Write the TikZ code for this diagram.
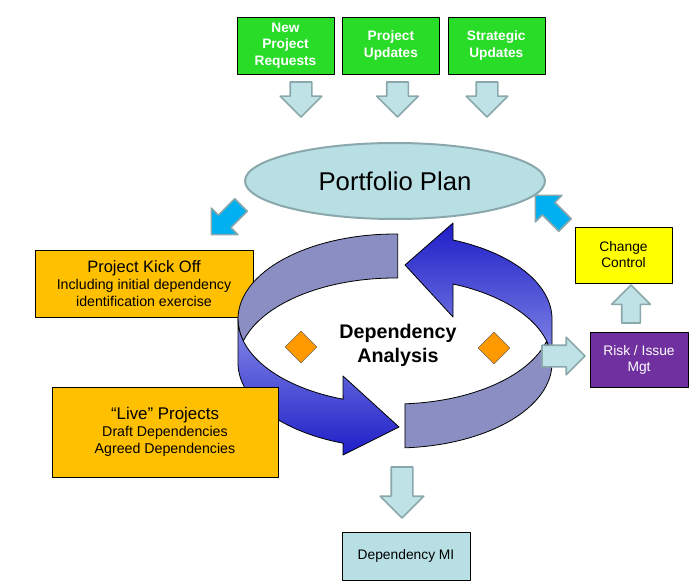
\documentclass[tikz,border=0pt]{standalone}
\usepackage{fontspec}
\setmainfont{Liberation Sans}
\usetikzlibrary{positioning,shapes.geometric,shapes.arrows}
\definecolor{boxgreen}{RGB}{40,220,40}
\definecolor{planfill}{RGB}{184,223,228}
\definecolor{planedge}{RGB}{138,168,172}
\definecolor{feedfill}{RGB}{190,226,229}
\definecolor{skyblue}{RGB}{0,176,240}
\definecolor{boxorange}{RGB}{255,192,0}
\definecolor{boxyellow}{RGB}{255,255,0}
\definecolor{boxpurple}{RGB}{112,48,160}
\definecolor{diamorange}{RGB}{255,153,0}
\definecolor{ringlav}{RGB}{138,142,194}
\definecolor{ringdeep}{RGB}{30,30,200}
\definecolor{ringmid}{RGB}{135,140,230}

\begin{document}
\begin{tikzpicture}[x=1pt,y=-1pt,line join=round,
  greenbox/.style={draw=black,fill=boxgreen,text=white,font=\fontsize{13.7}{16.6}\selectfont\bfseries,
    align=center,minimum width=97pt,minimum height=57pt,inner sep=0pt},
  plainbox/.style={draw=black,font=\fontsize{13.8}{16}\selectfont,align=center,
    minimum width=97pt,minimum height=56pt,inner sep=0pt},
  orangebox/.style={draw=black,fill=boxorange,font=\fontsize{14.2}{17}\selectfont,align=center,inner sep=0pt},
  plan/.style={ellipse,draw=planedge,line width=2pt,fill=planfill,minimum width=300pt,minimum height=76pt,
    font=\fontsize{25.7}{30}\selectfont},
  feedarrow/.style={single arrow,draw=planedge,fill=feedfill,line width=1.6pt,inner xsep=0pt,inner ysep=10pt,
    outer sep=0pt,single arrow head extend=10pt,minimum height=35pt,anchor=tail},
  bluearrow/.style={feedarrow,fill=skyblue,inner ysep=8pt,minimum height=42pt},
  diam/.style={diamond,draw=black!70,fill=diamorange,minimum width=32pt,minimum height=32pt,inner sep=0pt},
  ringlight/.style={draw=black,fill=ringlav,line width=0.8pt},
  ringdark/.style={draw=black,line width=0.8pt}]

\useasboundingbox(0,0)rectangle(696,585);

\node[greenbox](req)at(285.5,45.5){New\\Project\\Requests};
\node[greenbox](upd)[right=8pt of req]{Project\\Updates};
\node[greenbox](strat)[right=8pt of upd]{Strategic\\Updates};
\node[feedarrow,rotate=-90](f1)at(301,82){};
\node[feedarrow,rotate=-90](f2)at(397.5,82){};
\node[feedarrow,rotate=-90](f3)at(487,82){};

\node[plan](plan)at(395,181){Portfolio Plan};
\node[bluearrow,rotate=225](out1)at(241,205){};
\node[bluearrow,rotate=135](in1)at(565,225){};

\node[orangebox,minimum width=218pt,minimum height=67pt](kick)at(144,283.5)
  {{\fontsize{16.5}{19}\selectfont Project Kick Off}\\Including initial dependency\\identification exercise};

% ring: top edge centre (395,319), bottom edge centre (395,363), radii 157 x 85
\draw[ringlight]plot[variable=\t,domain=271:165,samples=40]({395+157*cos(\t)},{319+85*sin(\t)})
  --plot[variable=\t,domain=195:271,samples=40]({395+157*cos(\t)},{363+85*sin(\t)})--cycle;
\draw[ringlight]plot[variable=\t,domain=15:86.35,samples=40]({395+157*cos(\t)},{319+85*sin(\t)})
  --plot[variable=\t,domain=86.35:0,samples=40]({395+157*cos(\t)},{363+85*sin(\t)})--cycle;
\path[ringdark,top color=ringmid,bottom color=ringdeep]
  plot[variable=\t,domain=180:109.3,samples=40]({395+157*cos(\t)},{319+85*sin(\t)})
  --(343,376)--(399,427)--(343,455)
  --plot[variable=\t,domain=109.3:180,samples=40]({395+157*cos(\t)},{363+85*sin(\t)})--cycle;
\path[ringdark,top color=ringdeep,bottom color=ringmid]
  plot[variable=\t,domain=291.7:360,samples=40]({395+157*cos(\t)},{319+85*sin(\t)})
  --plot[variable=\t,domain=360:291.7,samples=40]({395+157*cos(\t)},{363+85*sin(\t)})
  --(453,317)--(405,265)--(453,223)--cycle;

\node[orangebox,minimum width=226pt,minimum height=90pt](live)at(165,432)
  {{\fontsize{16.9}{19}\selectfont “Live” Projects}\\Draft Dependencies\\Agreed Dependencies};

\node[diam](dl)at(301,347){};
\node[diam](dr)at(494,348){};
\node[font=\fontsize{19.7}{24}\selectfont\bfseries,align=center](dep)at(398,345){Dependency\\Analysis};

\node[plainbox,fill=boxyellow](change)at(623.5,255){Change\\Control};
\node[plainbox,fill=boxpurple,text=white,minimum width=98pt,minimum height=55pt](risk)at(639,359.5){Risk / Issue\\Mgt};
\node[feedarrow,single arrow head extend=8pt,minimum height=43pt](torisk)at(542,356){};
\node[feedarrow,rotate=90,inner ysep=8.5pt,minimum height=38pt](tochange)at(631,323){};

\node[feedarrow,rotate=-90,single arrow head extend=11pt,minimum height=51pt](tomi)at(402,467){};
\node[plainbox,fill=planfill,minimum width=128pt,minimum height=48pt](mi)at(406,556){Dependency MI};

\end{tikzpicture}
\end{document}
